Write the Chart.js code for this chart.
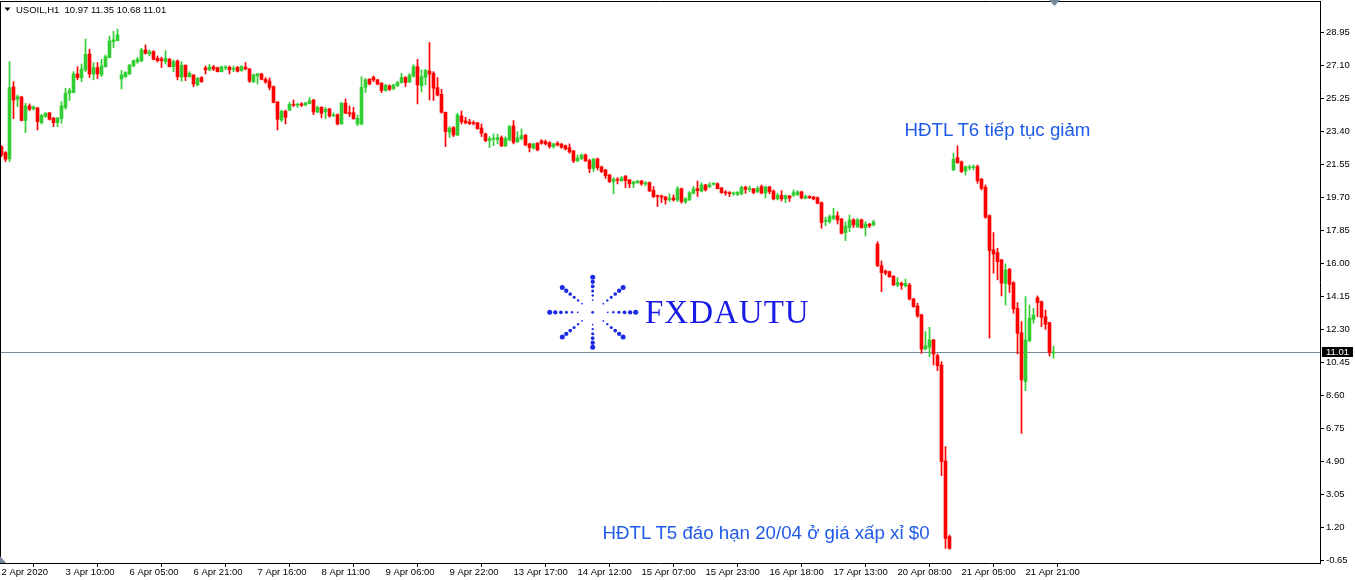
<!DOCTYPE html>
<html><head><meta charset="utf-8">
<script src="https://cdn.jsdelivr.net/npm/chart.js@4.4.1/dist/chart.umd.min.js"></script>
<style>
html,body{margin:0;padding:0;background:#fff;}
#wrap{position:relative;width:1355px;height:580px;overflow:hidden;background:#fff;}
#c{position:absolute;left:0;top:0;}
.t{position:absolute;white-space:pre;font-family:"Liberation Sans",Arial,sans-serif;}
.note{font-size:18.7px;line-height:18px;color:#1F5BE8;}
</style></head><body>
<div id="wrap">
<canvas id="c" width="1355" height="580"></canvas>
<div class="t" id="title" style="left:16px;top:4.7px;font-size:9.5px;line-height:9.5px;color:#000"></div>
<div class="t note" style="left:904.5px;top:120.5px;">HĐTL T6 tiếp tục giảm</div>
<div class="t note" style="left:602.5px;top:523.5px;">HĐTL T5 đáo hạn 20/04 ở giá xấp xỉ $0</div>
<div class="t" style="left:645px;top:295.7px;font-family:'Liberation Serif','DejaVu Serif',serif;font-size:33px;line-height:33px;letter-spacing:1px;color:#1a1ae6;">FXDAUTU</div>
</div>
<script>
const symbol = "USOIL,H1";
const open = [
22.54,22.20,21.85,25.88,25.19,25.32,24.00,24.82,24.65,24.71,
23.88,24.22,24.43,24.13,23.88,24.11,24.74,25.53,25.57,26.61,
26.39,26.84,27.73,26.61,26.97,26.56,27.02,27.53,28.42,28.48,
26.33,26.46,26.61,27.06,27.28,27.34,27.96,27.73,27.86,27.49,
27.45,27.30,27.43,27.02,27.34,26.44,27.10,26.46,26.56,26.00,
26.41,26.95,26.84,27.00,26.97,26.74,26.95,26.99,26.87,26.99,
26.80,27.00,26.89,26.16,26.50,26.61,26.31,26.22,25.90,25.04,
24.03,24.52,24.59,24.91,24.86,24.93,24.87,24.95,25.15,24.48,
24.74,24.50,24.65,24.26,24.33,23.81,24.97,24.44,24.44,23.81,
23.81,25.86,26.31,26.42,26.28,26.09,25.68,25.94,25.79,25.96,
26.13,26.42,26.16,26.50,27.02,25.94,26.42,26.78,26.65,25.85,
25.47,24.46,23.34,23.60,23.19,24.26,23.98,23.92,23.88,23.87,
23.58,23.25,22.87,22.95,22.93,23.04,22.58,22.91,23.70,22.82,
22.99,23.17,22.69,22.45,22.73,22.86,22.82,22.76,22.54,22.73,
22.67,22.59,22.48,22.30,21.74,21.87,22.07,21.75,21.31,21.85,
21.40,21.23,20.95,20.58,20.71,20.63,20.89,20.67,20.45,20.52,
20.61,20.45,20.52,20.09,19.79,19.77,19.72,19.57,19.66,19.55,
20.18,19.44,19.57,19.92,20.18,20.05,20.39,20.28,20.43,20.46,
20.22,20.00,19.96,19.89,19.87,19.89,20.26,20.13,20.17,20.02,
20.30,19.94,20.28,20.05,19.61,19.81,19.61,19.77,19.81,19.85,
20.00,19.64,19.74,19.72,19.68,19.40,18.35,18.33,18.52,18.67,
18.48,17.72,18.00,18.43,18.05,18.43,18.00,18.19,18.15,17.08,
15.87,15.57,15.53,15.27,14.78,14.88,14.73,14.78,14.00,13.61,
13.11,11.20,11.29,11.70,10.82,10.30,4.92,0.68,21.23,21.92,
21.68,21.17,21.34,21.36,21.42,20.71,20.26,18.67,16.75,16.60,
16.19,14.88,15.66,14.91,13.48,12.11,9.37,11.65,12.86,14.07,
13.85,13.01,12.67,10.97];
const high = [
22.59,22.26,27.30,26.18,25.43,25.36,24.97,24.93,24.82,24.73,
24.35,24.44,24.45,24.18,24.16,25.06,25.81,25.81,26.74,27.02,
27.17,28.56,28.00,27.25,27.25,27.43,27.68,28.74,29.00,29.13,
26.80,26.74,27.15,27.40,27.55,28.05,28.24,27.96,27.92,27.62,
27.55,27.92,27.49,27.40,27.40,27.30,27.12,26.74,26.57,26.42,
26.46,27.06,27.15,27.10,26.99,27.06,27.08,27.06,27.06,27.02,
27.08,27.25,26.93,26.61,26.65,26.65,26.41,26.39,25.94,25.06,
24.59,24.59,25.02,25.15,24.97,25.01,25.02,25.29,25.19,24.82,
24.78,24.73,24.69,24.44,24.37,25.01,25.21,24.82,24.74,24.31,
26.46,26.37,26.35,26.50,26.31,26.13,26.03,26.00,26.03,26.20,
26.65,26.46,26.65,27.12,27.43,26.84,26.87,28.37,26.74,26.41,
25.75,24.48,23.66,23.66,24.41,24.54,24.18,24.07,23.98,23.90,
23.81,23.29,23.10,23.25,23.23,23.14,23.10,23.72,24.00,23.38,
23.53,23.23,22.73,22.73,22.76,22.93,22.91,22.82,22.73,22.82,
22.73,22.63,22.69,22.33,22.07,22.13,22.13,21.83,21.89,21.90,
21.45,21.27,20.99,20.80,20.80,20.86,20.91,20.71,20.60,20.65,
20.65,20.58,20.56,20.30,19.83,19.83,19.75,19.89,19.83,20.30,
20.22,19.68,20.02,20.30,20.61,20.52,20.43,20.52,20.52,20.50,
20.26,20.07,20.02,20.00,20.02,20.33,20.33,20.33,20.20,20.30,
20.39,20.32,20.32,20.11,19.92,20.07,19.83,19.81,20.11,20.07,
20.04,19.83,19.79,19.75,19.72,19.44,18.58,18.71,19.08,18.88,
18.52,18.33,18.71,18.50,18.52,18.48,18.33,18.24,18.41,17.21,
16.13,15.62,15.57,15.31,15.20,14.95,15.12,14.88,14.04,13.76,
13.15,12.17,12.41,11.74,10.92,10.49,5.72,0.77,22.17,22.58,
21.74,21.46,21.51,21.51,21.51,20.76,20.39,18.71,17.72,16.84,
16.22,15.96,15.72,14.97,13.79,12.73,14.13,13.66,13.48,14.17,
13.89,13.38,12.70,11.35];
const low = [
21.98,21.70,21.70,24.11,24.78,23.98,23.32,24.56,24.59,23.47,
23.81,24.18,24.03,23.66,23.66,23.85,24.63,25.12,25.55,26.28,
26.18,26.74,26.41,26.28,26.35,26.46,26.99,27.51,28.09,28.46,
25.77,26.42,26.57,27.02,27.21,27.30,27.73,27.62,27.40,27.28,
26.97,27.17,27.00,26.74,26.28,26.20,26.24,26.42,25.90,25.94,
26.14,26.61,26.80,26.80,26.72,26.72,26.84,26.61,26.74,26.72,
26.76,26.84,26.13,26.13,26.05,26.28,26.09,25.72,24.99,23.47,
23.94,23.81,24.54,24.78,24.73,24.78,24.82,24.93,24.33,24.44,
24.15,24.11,24.18,24.22,23.75,23.79,24.39,24.22,24.07,23.70,
23.75,25.57,26.00,26.18,26.00,25.57,25.64,25.68,25.72,25.90,
26.09,25.90,26.13,26.42,24.93,25.60,26.00,25.15,25.12,25.38,
24.41,22.54,23.06,23.10,23.14,23.81,23.81,23.77,23.75,23.51,
23.10,22.82,22.48,22.59,22.69,22.54,22.54,22.86,22.69,22.76,
22.91,22.59,22.24,22.39,22.30,22.67,22.63,22.45,22.45,22.58,
22.45,22.35,22.17,21.64,21.70,21.81,21.70,21.08,21.14,21.23,
21.08,20.76,20.52,19.89,20.45,20.58,20.24,20.24,20.24,20.48,
20.37,20.35,20.02,19.68,19.18,19.40,19.31,19.46,19.49,19.46,
19.36,19.36,19.51,19.89,19.74,20.00,20.05,20.24,20.37,20.17,
19.92,19.81,19.74,19.81,19.79,19.83,19.92,20.02,19.89,19.96,
19.89,19.66,19.89,19.55,19.55,19.49,19.40,19.46,19.74,19.79,
19.61,19.61,19.62,19.55,19.33,17.96,18.11,18.24,18.43,18.20,
17.64,17.27,17.77,18.00,18.00,17.96,17.53,18.00,18.09,15.81,
14.41,15.35,15.21,14.75,14.69,14.54,14.67,13.94,13.53,12.97,
10.95,11.14,10.77,10.30,9.98,4.10,0.02,-0.03,21.19,21.60,
21.08,20.95,21.23,21.23,20.48,20.11,18.52,11.81,15.44,15.07,
14.17,13.66,14.36,13.20,10.92,6.47,8.86,11.61,12.64,13.01,
12.45,12.30,10.80,10.68];
const close = [
22.07,21.83,25.85,25.15,25.34,24.00,24.82,24.63,24.76,23.94,
24.28,24.41,24.07,23.88,24.15,24.82,25.53,25.68,26.61,26.41,
26.89,27.71,26.61,26.97,26.61,27.06,27.58,28.46,28.52,28.80,
26.56,26.69,27.10,27.36,27.43,27.96,27.77,27.86,27.43,27.36,
27.36,27.49,27.02,27.30,26.46,27.10,26.46,26.65,26.05,26.37,
26.18,26.84,27.00,26.89,26.74,27.00,26.97,26.84,26.91,26.76,
27.02,26.89,26.22,26.56,26.61,26.31,26.16,25.86,25.01,24.07,
24.52,24.18,24.91,24.86,24.89,24.86,24.99,25.10,24.48,24.74,
24.41,24.63,24.26,24.31,23.81,24.97,24.41,24.37,24.11,24.13,
25.86,26.28,26.05,26.28,26.05,25.68,25.98,25.75,26.00,26.13,
26.42,26.13,26.54,27.02,26.00,26.46,26.80,26.61,25.81,25.43,
24.46,23.38,23.57,23.19,24.31,23.94,23.88,23.83,23.83,23.55,
23.29,22.87,22.99,22.99,23.04,22.58,22.99,23.66,22.78,23.04,
23.16,22.63,22.48,22.69,22.35,22.73,22.69,22.54,22.69,22.63,
22.50,22.41,22.24,21.74,21.90,22.07,21.74,21.31,21.83,21.36,
21.14,20.91,20.58,20.71,20.65,20.78,20.63,20.45,20.56,20.61,
20.45,20.52,20.05,19.74,19.74,19.70,19.55,19.61,19.55,20.18,
19.46,19.62,19.96,20.17,20.07,20.39,20.11,20.39,20.46,20.18,
19.96,19.94,19.90,19.94,19.98,20.26,20.15,20.17,19.96,20.20,
19.94,20.28,20.02,19.61,19.81,19.61,19.79,19.66,19.96,20.00,
19.66,19.74,19.68,19.61,19.36,18.28,18.41,18.61,18.65,18.43,
17.68,18.09,18.43,18.15,18.43,18.00,18.20,18.09,18.32,15.87,
15.48,15.44,15.25,14.78,14.92,14.77,14.88,14.00,13.57,13.05,
11.18,11.37,11.70,10.90,10.26,4.88,0.58,0.02,21.83,21.64,
21.14,21.42,21.38,21.40,20.63,20.20,18.58,16.71,16.52,16.09,
14.88,15.62,14.82,13.44,12.08,9.46,11.70,12.92,13.10,13.79,
12.97,12.58,10.99,11.01];
const timeTickIndex = [0,16,32,48,64,80,96,112,128,144,160,176,192,208,224,240,256];
const timeTickLabels = ["2 Apr 2020","3 Apr 10:00","6 Apr 05:00","6 Apr 21:00","7 Apr 16:00","8 Apr 11:00","9 Apr 06:00","9 Apr 22:00","13 Apr 17:00","14 Apr 12:00","15 Apr 07:00","15 Apr 23:00","16 Apr 18:00","17 Apr 13:00","20 Apr 08:00","21 Apr 05:00","21 Apr 21:00"];
const priceTicks = [-0.65,1.20,3.05,4.90,6.75,8.60,10.45,12.30,14.15,16.00,17.85,19.70,21.55,23.40,25.25,27.10,28.95];

const N = open.length;
const BULL = '#32CD32', BEAR = '#FF0000', LINE = '#778899', LOGO = '#1a2ae6';
const FONT = '"Liberation Sans", Arial, sans-serif';
const last = N - 1;
document.getElementById('title').textContent =
  symbol + '  ' + [open[last], high[last], low[last], close[last]].map(v => v.toFixed(2)).join(' ');

const colorOf = i => close[i] >= open[i] ? BULL : BEAR;
const wickData = open.map((o, i) => ({x: i, y: [low[i], high[i]]}));
const bodyData = open.map((o, i) => ({x: i, y: [o, close[i]]}));

const decor = {
  id: 'decor',
  beforeDraw(chart) {
    const c = chart.ctx;
    c.save(); c.fillStyle = '#fff'; c.fillRect(0, 0, chart.width, chart.height); c.restore();
  },
  beforeDatasetsDraw(chart) {
    const c = chart.ctx, a = chart.chartArea, y = Math.round(chart.scales.y.getPixelForValue(close[last])) + 0.5;
    c.save(); c.strokeStyle = LINE; c.lineWidth = 1;
    c.beginPath(); c.moveTo(a.left, y); c.lineTo(a.right, y); c.stroke(); c.restore();
  },
  afterDraw(chart) {
    const c = chart.ctx, a = chart.chartArea;
    c.save();
    c.strokeStyle = '#000'; c.lineWidth = 1;
    c.beginPath(); c.moveTo(a.left, a.top + 0.5); c.lineTo(a.right + 1, a.top + 0.5);
    c.moveTo(a.left + 0.5, a.top); c.lineTo(a.left + 0.5, a.bottom); c.stroke();
    const y = Math.round(chart.scales.y.getPixelForValue(close[last]));
    c.fillStyle = '#000'; c.fillRect(a.right + 2, y - 5, 31, 10);
    c.fillStyle = '#fff'; c.font = '9.5px ' + FONT; c.textBaseline = 'middle'; c.textAlign = 'left';
    c.fillText(close[last].toFixed(2), a.right + 6, y + 0.5);
    c.fillStyle = '#000';
    c.beginPath(); c.moveTo(4.5, 7.5); c.lineTo(10.5, 7.5); c.lineTo(7.5, 11); c.closePath(); c.fill();
    c.fillStyle = LINE;
    c.beginPath(); c.moveTo(1049, 0); c.lineTo(1060, 0); c.lineTo(1054.5, 6); c.closePath(); c.fill();
    c.beginPath(); c.moveTo(0, 556); c.lineTo(0, a.bottom); c.lineTo(6, a.bottom); c.closePath(); c.fill();
    const cx = 592.7, cy = 312.3;
    c.fillStyle = LOGO;
    for (let d = 0; d < 8; d++) {
      const ang = d * Math.PI / 4, ux = Math.cos(ang), uy = Math.sin(ang);
      for (let k = 0; k < 6; k++) {
        const t = 1 - k * 0.13;
        const r = Math.max(0.7, 2.5 - k * 0.33);
        c.beginPath(); c.arc(cx + ux * 43 * t, cy + uy * 35 * t, r, 0, Math.PI * 2); c.fill();
      }
    }
    c.beginPath(); c.arc(cx, cy, 1.4, 0, Math.PI * 2); c.fill();
    c.restore();
  }
};

new Chart(document.getElementById('c'), {
  type: 'bar',
  data: {
    datasets: [
      { data: wickData, backgroundColor: ctx => colorOf(ctx.dataIndex), barThickness: 1, grouped: false, borderWidth: 0, order: 2 },
      { data: bodyData, backgroundColor: ctx => colorOf(ctx.dataIndex), barThickness: 3, minBarLength: 1, grouped: false, borderWidth: 0, order: 1 }
    ]
  },
  options: {
    responsive: false, animation: false, devicePixelRatio: 1,
    layout: { padding: { top: 1, left: 0, right: 0, bottom: 0 } },
    plugins: { legend: { display: false }, tooltip: { enabled: false } },
    events: [],
    scales: {
      x: {
        type: 'linear', min: -0.375, max: 329.625, offset: false,
        grid: { drawOnChartArea: false, drawTicks: true, tickLength: 4, color: '#000' },
        border: { display: true, color: '#000' },
        afterBuildTicks: ax => { ax.ticks = timeTickIndex.map(v => ({ value: v })); },
        afterFit: ax => { ax.height = 17; ax.paddingLeft = 0; ax.paddingRight = 0; },
        ticks: {
          autoSkip: false, maxRotation: 0, minRotation: 0, align: 'start', padding: 0,
          color: '#000', font: { family: FONT, size: 9.5 },
          callback: v => { const k = timeTickIndex.indexOf(v); return k >= 0 ? timeTickLabels[k] : ''; }
        }
      },
      y: {
        type: 'linear', position: 'right', min: -0.80, max: 30.70,
        grid: { drawOnChartArea: false, drawTicks: true, tickLength: 4, color: '#000' },
        border: { display: true, color: '#000' },
        afterBuildTicks: ax => { ax.ticks = priceTicks.map(v => ({ value: v })); },
        afterFit: ax => { ax.width = 35; ax.paddingTop = 0; ax.paddingBottom = 0; },
        ticks: { padding: 2, color: '#000', font: { family: FONT, size: 9.5 }, callback: v => Number(v).toFixed(2) }
      }
    }
  },
  plugins: [decor]
});
</script>
</body></html>
